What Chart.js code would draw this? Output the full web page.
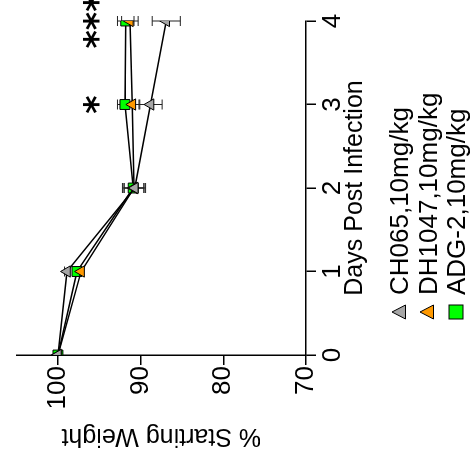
<!DOCTYPE html>
<html>
<head>
<meta charset="utf-8">
<script src="https://cdn.jsdelivr.net/npm/chart.js@4.4.0/dist/chart.umd.min.js"></script>
<style>
  html, body { margin: 0; padding: 0; background: #fff; }
  #page { position: relative; width: 474px; height: 465px; overflow: hidden; }
  /* the figure is drawn upright and then turned a quarter turn to the left */
  #rot { position: absolute; left: 0; top: 465px; width: 465px; height: 474px; transform-origin: 0 0; transform: rotate(-90deg); }
  #legend { position: absolute; left: 145px; top: 385px; font: 26px "Liberation Sans", Arial, sans-serif; color: #000; }
  .row { position: relative; height: 28.5px; line-height: 28.5px; white-space: nowrap; }
  .row svg { position: absolute; left: 0; top: 5.5px; }
  .row span { position: absolute; left: 25px; top: 0; }
</style>
</head>
<body>
<div id="page">
  <div id="rot">
    <canvas id="chart" width="465" height="474"></canvas>
    <div id="legend"></div>
  </div>
</div>
<script>
const days = [0, 1, 2, 3, 4];

const seriesNames = ['CH065,10mg/kg', 'DH1047,10mg/kg', 'ADG-2,10mg/kg'];
const ch065 = [100, 98.9, 90.7, 88.8, 86.9];
const dh1047 = [100, 97.2, 90.8, 91.0, 91.3];
const adg2 = [100, 97.7, 90.9, 91.9, 91.8];

const ch065Err = [0, 0.3, 1.3, 1.4, 1.7];
const dh1047Err = [0, 0.3, 1.2, 0.9, 1.0];
const adg2Err = [0, 0.3, 1.3, 0.9, 1.0];

const weightTicks = [70, 80, 90, 100];
const dayTicks = [0, 1, 2, 3, 4];

const starDays = [3, 4];
const starText = ['*', '***'];
const starLevel = 95.5;

const colors = ['#a6a6a6', '#ff9900', '#00ff00'];
const shapes = ['triangle', 'triangle', 'rect'];

const FONT = '"Liberation Sans", Arial, sans-serif';

const toPoints = (vals) => days.map((d, i) => ({ x: d, y: vals[i] }));

const errorBars = {
  id: 'errorBars',
  beforeDatasetsDraw(chart) {
    const { ctx, scales: { x, y } } = chart;
    ctx.save();
    ctx.strokeStyle = '#222';
    ctx.lineWidth = 1;
    chart.data.datasets.forEach(ds => {
      ds.data.forEach((p, i) => {
        const e = ds.errors[i];
        if (!e) return;
        const px = x.getPixelForValue(p.x);
        const top = y.getPixelForValue(p.y + e);
        const bot = y.getPixelForValue(p.y - e);
        ctx.beginPath();
        ctx.moveTo(px, top); ctx.lineTo(px, bot);
        ctx.moveTo(px - 5, top); ctx.lineTo(px + 5, top);
        ctx.moveTo(px - 5, bot); ctx.lineTo(px + 5, bot);
        ctx.stroke();
      });
    });
    ctx.restore();
  }
};

const stars = {
  id: 'stars',
  afterDatasetsDraw(chart) {
    const { ctx, scales: { x, y } } = chart;
    ctx.save();
    ctx.fillStyle = '#000';
    ctx.font = 'bold 35px "DejaVu Sans"';
    ctx.textAlign = 'center';
    ctx.textBaseline = 'alphabetic';
    starDays.forEach((d, i) => {
      ctx.fillText(starText[i], x.getPixelForValue(d), y.getPixelForValue(starLevel) + 14);
    });
    ctx.restore();
  }
};

const makeSet = (i, vals, errs) => ({
  label: seriesNames[i],
  data: toPoints(vals),
  errors: errs,
  borderColor: '#000',
  borderWidth: 1.5,
  tension: 0,
  fill: false,
  pointStyle: shapes[i],
  pointRadius: shapes[i] === 'rect' ? 7 : 6.5,
  pointBackgroundColor: colors[i],
  pointBorderColor: '#000',
  pointBorderWidth: 1
});

new Chart(document.getElementById('chart'), {
  type: 'line',
  data: {
    datasets: [
      makeSet(0, ch065, ch065Err),
      makeSet(1, dh1047, dh1047Err),
      makeSet(2, adg2, adg2Err)
    ]
  },
  options: {
    responsive: false,
    animation: false,
    layout: { padding: { top: 11, right: 21, bottom: 104, left: 0 } },
    plugins: {
      legend: { display: false },
      tooltip: { enabled: false }
    },
    scales: {
      x: {
        type: 'linear',
        min: 0,
        max: 4,
        afterBuildTicks: (s) => { s.ticks = dayTicks.map(v => ({ value: v })); },
        afterFit: (s) => { s.height = 64; },
        border: { display: true, color: '#000', width: 1.5 },
        grid: { drawOnChartArea: false, drawTicks: true, tickLength: 10, color: '#000', lineWidth: 1.5 },
        ticks: { color: '#000', padding: 1, font: { family: FONT, size: 26 } },
        title: {
          display: true,
          text: 'Days Post Infection',
          color: '#000',
          padding: { top: 0, bottom: 0 },
          font: { family: FONT, size: 25 }
        }
      },
      y: {
        min: 70,
        max: 105,
        afterBuildTicks: (s) => { s.ticks = weightTicks.map(v => ({ value: v })); },
        afterFit: (s) => { s.width = 110; },
        border: { display: true, color: '#000', width: 1.5 },
        grid: { drawOnChartArea: false, drawTicks: true, tickLength: 10, color: '#000', lineWidth: 1.5 },
        ticks: { color: '#000', padding: 1, font: { family: FONT, size: 26 } },
        title: {
          display: true,
          text: '% Starting Weight',
          color: '#000',
          padding: { top: 14, bottom: 0 },
          font: { family: FONT, size: 25 }
        }
      }
    }
  },
  plugins: [errorBars, stars]
});

// legend, one entry per row
const legend = document.getElementById('legend');
seriesNames.forEach((name, i) => {
  const shape = shapes[i] === 'rect'
    ? '<rect x="1" y="1" width="14" height="14" fill="' + colors[i] + '" stroke="#000" stroke-width="1"/>'
    : '<polygon points="8,1 15,14.5 1,14.5" fill="' + colors[i] + '" stroke="#000" stroke-width="1"/>';
  const row = document.createElement('div');
  row.className = 'row';
  row.innerHTML = '<svg width="16" height="16">' + shape + '</svg><span>' + name + '</span>';
  legend.appendChild(row);
});
</script>
</body>
</html>
